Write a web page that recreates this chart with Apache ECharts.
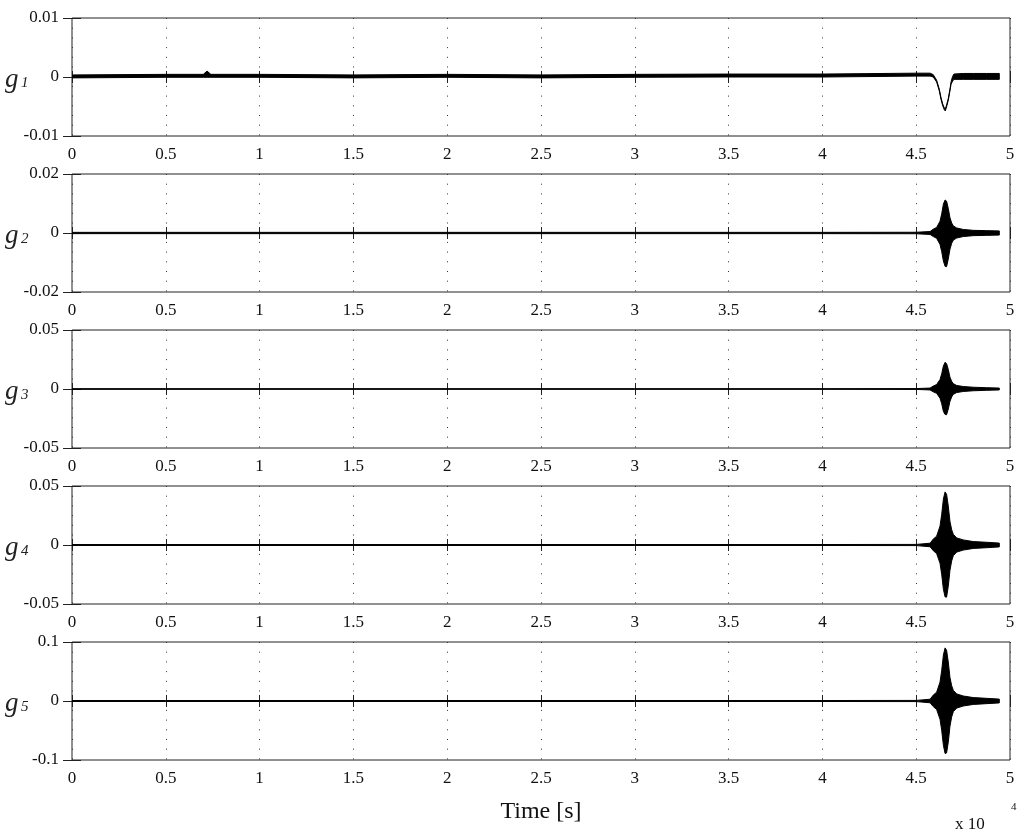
<!DOCTYPE html>
<html style="height: 100%">
<head>
<meta charset="utf-8">
<script src="https://cdn.jsdelivr.net/npm/echarts@6/dist/echarts.min.js"></script>
</head>
<body style="height: 100%; margin: 0; background: #fff;">
<div id="main" style="width: 1024px; height: 838px;"></div>
<script>
// time axis (x 10^4 s), shared by g2..g5 envelopes
var T = [0, 0.5, 1, 1.5, 2, 2.5, 3, 3.5, 4, 4.5,
  4.574, 4.591, 4.609, 4.627, 4.636, 4.645, 4.654, 4.662, 4.671,
  4.680, 4.689, 4.698, 4.716, 4.751, 4.804, 4.876, 4.943];

// g1 has its own sampling (small spike near 0.72, dip near 4.65)
var T1 = [0, 0.5, 0.70, 0.72, 0.74, 1, 1.5, 2, 2.5, 3, 3.5, 4, 4.5,
  4.574, 4.591, 4.609, 4.623, 4.632, 4.641, 4.650, 4.655, 4.662, 4.671,
  4.680, 4.686, 4.694, 4.701, 4.751, 4.804, 4.876, 4.943];

var g1Upper = [0.00035, 0.00045, 0.00045, 0.0010, 0.00045, 0.00045, 0.00035, 0.00045, 0.00035, 0.00045, 0.0005, 0.0005, 0.00065,
  0.00065, 0.0004, -0.00055, -0.00205, -0.00345, -0.00455, -0.00525, -0.00545, -0.00475, -0.00365,
  -0.00205, -0.0008, 0.0001, 0.0005, 0.0006, 0.0006, 0.0006, 0.0006];
var g1Lower = [-0.00015, -0.00005, -0.00005, -0.00005, -0.00005, -0.00005, -0.00015, -0.00005, -0.00015, -0.00005, 0.0, 0.0, 0.00015,
  0.00015, 0.0, -0.00085, -0.00235, -0.00375, -0.00485, -0.00555, -0.00575, -0.00505, -0.00395,
  -0.00235, -0.0012, -0.0007, -0.0004, -0.0004, -0.0004, -0.0004, -0.0004];

var g2Upper = [0.00022, 0.00022, 0.00022, 0.00022, 0.00022, 0.00022, 0.00022, 0.00022, 0.00022, 0.00025,
  0.0005, 0.0013, 0.0019, 0.004, 0.0065, 0.0098, 0.0112, 0.0108, 0.0083,
  0.0052, 0.0034, 0.0024, 0.0017, 0.0012, 0.0009, 0.0008, 0.0007];
var g2Lower = [-0.00022, -0.00022, -0.00022, -0.00022, -0.00022, -0.00022, -0.00022, -0.00022, -0.00022, -0.00025,
  -0.0005, -0.0012, -0.0018, -0.0039, -0.0063, -0.0095, -0.0113, -0.0114, -0.0088,
  -0.0055, -0.0035, -0.0024, -0.0017, -0.0012, -0.0009, -0.0008, -0.0007];

var g3Upper = [0.0003, 0.0003, 0.0003, 0.0003, 0.0003, 0.0003, 0.0003, 0.0003, 0.0003, 0.00035,
  0.0008, 0.0025, 0.0038, 0.008, 0.013, 0.0195, 0.0226, 0.0215, 0.0165,
  0.010, 0.0065, 0.0045, 0.003, 0.0021, 0.0015, 0.0011, 0.0008];
var g3Lower = [-0.0003, -0.0003, -0.0003, -0.0003, -0.0003, -0.0003, -0.0003, -0.0003, -0.0003, -0.00035,
  -0.0008, -0.0024, -0.0037, -0.0078, -0.0125, -0.019, -0.0216, -0.0218, -0.017,
  -0.0105, -0.0067, -0.0045, -0.003, -0.0021, -0.0015, -0.0011, -0.0008];

var g4Upper = [0.0004, 0.0004, 0.0004, 0.0004, 0.0004, 0.0004, 0.0004, 0.0004, 0.0004, 0.0005,
  0.0015, 0.005, 0.0075, 0.016, 0.026, 0.039, 0.045, 0.043, 0.033,
  0.020, 0.013, 0.009, 0.006, 0.0043, 0.0029, 0.0023, 0.0016];
var g4Lower = [-0.0004, -0.0004, -0.0004, -0.0004, -0.0004, -0.0004, -0.0004, -0.0004, -0.0004, -0.0005,
  -0.0015, -0.0048, -0.0073, -0.0155, -0.025, -0.0375, -0.044, -0.0442, -0.035,
  -0.0215, -0.0135, -0.009, -0.006, -0.0043, -0.0029, -0.0023, -0.0016];

var g5Upper = [0.0008, 0.0008, 0.0008, 0.0008, 0.0008, 0.0008, 0.0008, 0.0008, 0.0008, 0.0010,
  0.0030, 0.0100, 0.0150, 0.032, 0.052, 0.078, 0.090, 0.086, 0.066,
  0.040, 0.026, 0.018, 0.012, 0.0085, 0.0058, 0.0045, 0.0032];
var g5Lower = [-0.0008, -0.0008, -0.0008, -0.0008, -0.0008, -0.0008, -0.0008, -0.0008, -0.0008, -0.0010,
  -0.0030, -0.0095, -0.0145, -0.031, -0.050, -0.075, -0.089, -0.088, -0.070,
  -0.043, -0.027, -0.018, -0.012, -0.0085, -0.0058, -0.0045, -0.0032];

var yMax = [0.01, 0.02, 0.05, 0.05, 0.1];
var xMin = 0, xMax = 5, xStep = 0.5;

var panels = [
  { t: T1, up: g1Upper, lo: g1Lower },
  { t: T, up: g2Upper, lo: g2Lower },
  { t: T, up: g3Upper, lo: g3Lower },
  { t: T, up: g4Upper, lo: g4Lower },
  { t: T, up: g5Upper, lo: g5Lower }
];

var chart = echarts.init(document.getElementById('main'));
var FONT = 'Liberation Serif';
var INK = '#111';

var grids = [], xAxes = [], yAxes = [], series = [], graphics = [];
var top0 = 18, step = 156, h = 118;

// envelope outline: upper edge left->right, then lower edge right->left
function outline(p) {
  var pts = p.t.map(function (t, k) { return [t, p.up[k]]; });
  for (var k = p.t.length - 1; k >= 0; k--) pts.push([p.t[k], p.lo[k]]);
  return pts;
}

panels.forEach(function (p, i) {
  var top = top0 + step * i;
  grids.push({
    left: 72, right: 14, top: top, height: h,
    show: true, borderColor: '#222', borderWidth: 1, backgroundColor: 'transparent'
  });
  // bottom x axis with labels + dotted vertical grid
  xAxes.push({
    gridIndex: i, type: 'value', min: xMin, max: xMax, interval: xStep,
    axisLine: { show: false },
    axisTick: { inside: true, length: 6, lineStyle: { color: '#222' } },
    axisLabel: { margin: 10, color: INK, fontFamily: FONT, fontSize: 17 },
    splitLine: { show: true, lineStyle: { color: '#333', width: 1, type: [1, 8.7] } },
    name: i === 4 ? 'Time [s]' : '',
    nameLocation: 'middle', nameGap: 40,
    nameTextStyle: { color: INK, fontFamily: FONT, fontSize: 24 }
  });
  // top mirror axis: ticks only
  xAxes.push({
    gridIndex: i, type: 'value', position: 'top', min: xMin, max: xMax, interval: xStep,
    axisLine: { show: false },
    axisTick: { inside: true, length: 6, lineStyle: { color: '#222' } },
    axisLabel: { show: false }, splitLine: { show: false }
  });
  yAxes.push({
    gridIndex: i, type: 'value', min: -yMax[i], max: yMax[i], interval: yMax[i],
    axisLine: { show: false },
    axisTick: { inside: true, length: 9, lineStyle: { color: '#222' } },
    axisLabel: { margin: 13, color: INK, fontFamily: FONT, fontSize: 17, padding: [5, 0, 0, 0] },
    splitLine: { show: false }
  });
  yAxes.push({
    gridIndex: i, type: 'value', position: 'right', min: -yMax[i], max: yMax[i], interval: yMax[i],
    axisLine: { show: false },
    axisTick: { inside: true, length: 9, lineStyle: { color: '#222' } },
    axisLabel: { show: false }, splitLine: { show: false }
  });

  var pts = outline(p);
  series.push({
    type: 'custom', xAxisIndex: 2 * i, yAxisIndex: 2 * i,
    silent: true, clip: true,
    data: pts,
    renderItem: function (params, api) {
      if (params.dataIndex !== 0) return null;
      return {
        type: 'polygon',
        shape: { points: pts.map(function (d) { return api.coord(d); }) },
        style: { fill: '#000', stroke: '#000', lineWidth: 1, lineJoin: 'round' }
      };
    }
  });

  // y label g_i
  var mid = top + h / 2;
  graphics.push({
    type: 'text', left: 5, top: mid - 11,
    style: { text: 'g', fontFamily: FONT, fontStyle: 'italic', fontSize: 27, fill: '#222' }
  });
  graphics.push({
    type: 'text', left: 21, top: mid - 1,
    style: { text: String(i + 1), fontFamily: FONT, fontStyle: 'italic', fontSize: 15, fill: '#222' }
  });
});

graphics.push({
  type: 'text', left: 955, top: 816,
  style: { text: 'x 10', fontFamily: FONT, fontSize: 17, fill: INK }
});
graphics.push({
  type: 'text', left: 1011, top: 802,
  style: { text: '4', fontFamily: FONT, fontSize: 11, fill: INK }
});

chart.setOption({
  animation: false,
  backgroundColor: '#fff',
  grid: grids,
  xAxis: xAxes,
  yAxis: yAxes,
  series: series,
  graphic: graphics
});
</script>
</body>
</html>
